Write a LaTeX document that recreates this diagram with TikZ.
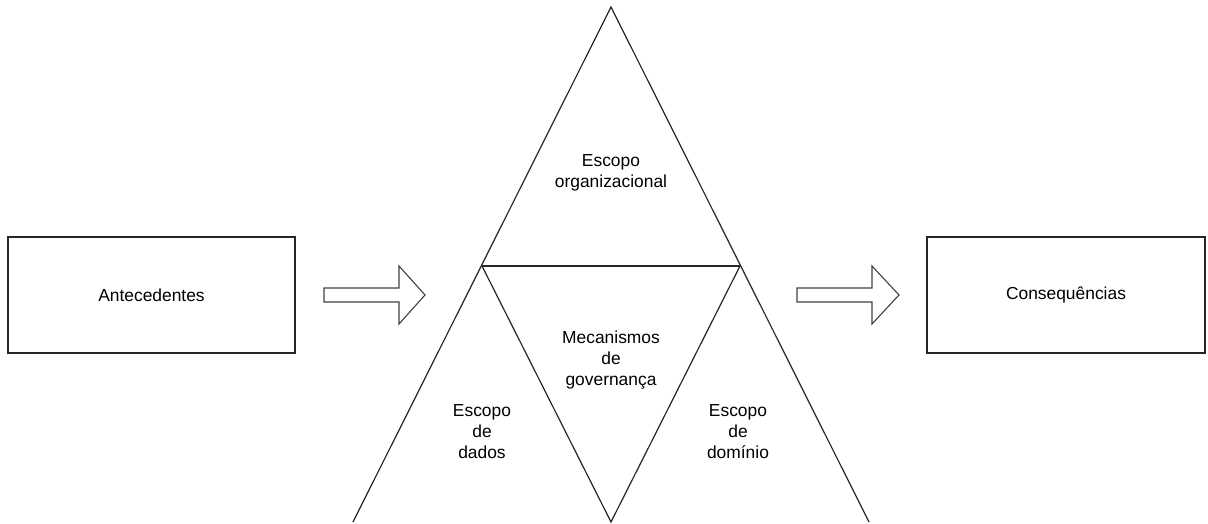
\documentclass[tikz,border=0pt]{standalone}
\usepackage{fontspec}
\setmainfont{Liberation Sans}
\begin{document}
\begin{tikzpicture}[x=1pt,y=-1pt,
  line width=1.2pt,
  frame/.style={draw=black!85},
  label/.style={align=center,font=\fontsize{17.4}{21}\selectfont,inner sep=0pt},
  blockarrow/.style={draw=black!75,line width=1.1pt,line join=miter}]
\useasboundingbox (0,0) rectangle (1208,524);

% side boxes
\node[frame,draw,minimum width=287pt,minimum height=116pt,inner sep=0pt,
      font=\fontsize{17.4}{21}\selectfont] (ante) at (151.5,295) {Antecedentes};
\node[frame,draw,minimum width=278pt,minimum height=116pt,inner sep=0pt,
      font=\fontsize{17.4}{21}\selectfont] (cons) at (1066,295) {Consequências};

% block arrows
\draw[blockarrow] (324,288) -- (399,288) -- (399,266) -- (425,295) -- (399,324)
  -- (399,302) -- (324,302) -- cycle;
\draw[blockarrow] (797,288) -- (872,288) -- (872,266) -- (899,295) -- (872,324)
  -- (872,302) -- (797,302) -- cycle;

% triangle
\coordinate (apex) at (611,7);
\coordinate (bl) at (353,522);
\coordinate (br) at (869,522);
\coordinate (bm) at (611,522);
\coordinate (ml) at (482,266);
\coordinate (mr) at (740,266);
\draw[frame,line join=miter] (bl) -- (apex) -- (br);
\draw[frame] (ml) -- (mr);
\draw[frame,line join=miter] (ml) -- (bm) -- (mr);

% labels
\node[label] (org) at (611,173) {Escopo\\organizacional};
\node[label] (mec) at (611,360) {Mecanismos\\de\\governança};
\node[label] (dad) at (482,432) {Escopo\\de\\dados};
\node[label] (dom) at (738,432) {Escopo\\de\\domínio};
\end{tikzpicture}
\end{document}
